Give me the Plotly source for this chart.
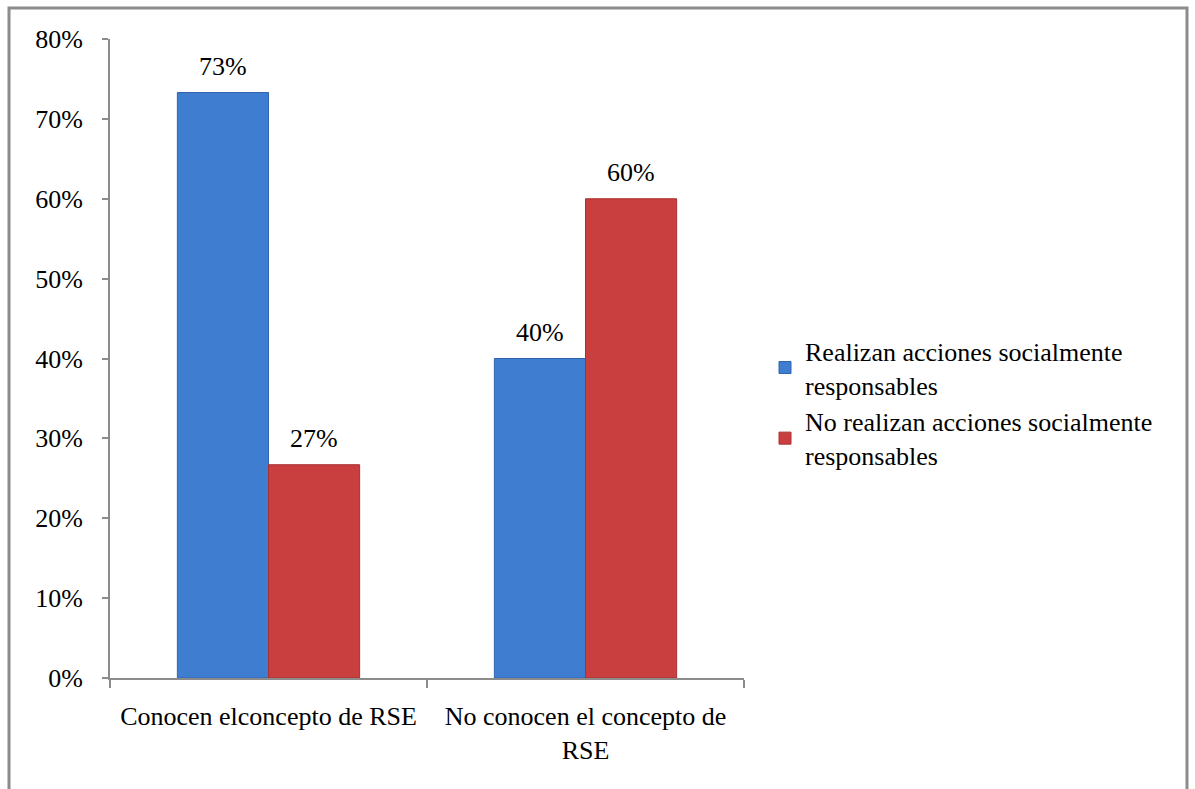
import plotly.graph_objects as go

categories = ["Conocen elconcepto de RSE", "No conocen el concepto de<br>RSE"]
series_names = ["Realizan acciones socialmente<br>responsables",
                "No realizan acciones socialmente<br>responsables"]
realizan = [0.733, 0.40]
no_realizan = [0.267, 0.60]
labels_realizan = ["73%", "40%"]
labels_no_realizan = ["27%", "60%"]
y_ticks = [0, 0.1, 0.2, 0.3, 0.4, 0.5, 0.6, 0.7, 0.8]
y_tick_labels = ["0%", "10%", "20%", "30%", "40%", "50%", "60%", "70%", "80%"]

FONT = "Liberation Serif"
FS = 26

fig = go.Figure()
fig.add_trace(go.Bar(x=categories, y=realizan, name=series_names[0],
                     marker=dict(color="#3e7dcf", line=dict(color="#2f65ad", width=1))))
fig.add_trace(go.Bar(x=categories, y=no_realizan, name=series_names[1],
                     marker=dict(color="#c93e3e", line=dict(color="#a83132", width=1))))

W, H = 1195, 789
L, R, T, B = 110, 744, 39, 678
GAP = 0.425
half_bar = (R - L) / len(categories) * (1 - GAP) / 4

annotations = []
for cat, v, t in zip(categories, realizan, labels_realizan):
    annotations.append(dict(x=cat, y=v, text=t, showarrow=False, xshift=-half_bar,
                            yanchor="bottom", yshift=10,
                            font=dict(family=FONT, size=FS, color="black")))
for cat, v, t in zip(categories, no_realizan, labels_no_realizan):
    annotations.append(dict(x=cat, y=v, text=t, showarrow=False, xshift=half_bar,
                            yanchor="bottom", yshift=10,
                            font=dict(family=FONT, size=FS, color="black")))

fig.update_layout(
    width=W, height=H,
    margin=dict(l=L, r=W - R, t=T, b=H - B, autoexpand=False),
    paper_bgcolor="white", plot_bgcolor="white",
    barmode="group", bargap=GAP, bargroupgap=0,
    font=dict(family=FONT, size=FS, color="black"),
    showlegend=True,
    legend=dict(x=(765 - L) / (R - L), y=0.43, xanchor="left", yanchor="middle",
                font=dict(family=FONT, size=FS, color="black"),
                tracegroupgap=10, itemwidth=30, bgcolor="rgba(0,0,0,0)"),
    xaxis=dict(showline=True, linecolor="#8c8c8c", linewidth=2,
               ticks="outside", ticklen=8, tickcolor="#8c8c8c", tickwidth=2,
               tickson="boundaries", showgrid=False, zeroline=False,
               ticklabelstandoff=14,
               tickfont=dict(family=FONT, size=FS, color="black")),
    yaxis=dict(range=[0, 0.8], tickvals=y_ticks, ticktext=y_tick_labels,
               showline=True, linecolor="#8c8c8c", linewidth=2,
               ticks="outside", ticklen=6, tickcolor="#8c8c8c", tickwidth=2,
               showgrid=False, zeroline=False, ticklabelstandoff=14,
               tickfont=dict(family=FONT, size=FS, color="black")),
    annotations=annotations,
    shapes=[dict(type="rect", xref="paper", yref="paper",
                 x0=(9 - L) / (R - L), x1=(1187 - L) / (R - L),
                 y0=(B - 800) / (B - T), y1=(B - 8) / (B - T),
                 line=dict(color="#8c8c8c", width=3), fillcolor="rgba(0,0,0,0)")],
)

fig.write_html("out.html")
